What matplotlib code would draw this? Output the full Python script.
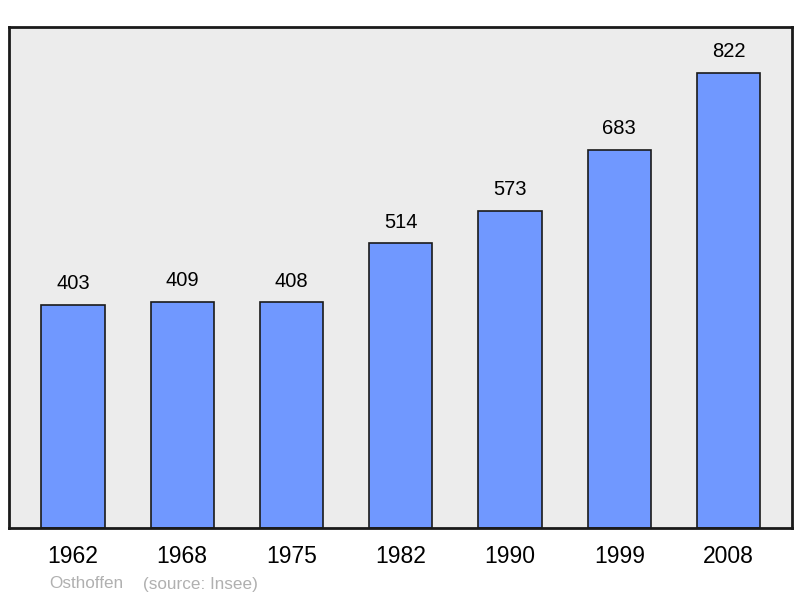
import matplotlib.pyplot as plt

years = ['1962', '1968', '1975', '1982', '1990', '1999', '2008']
population = [403, 409, 408, 514, 573, 683, 822]
town = 'Osthoffen'
source = '(source: Insee)'

plt.rcParams['font.family'] = ['Liberation Sans', 'DejaVu Sans']

fig = plt.figure(figsize=(8, 5.98), dpi=100)
ax = fig.add_axes([9 / 800, 70 / 598, 783 / 800, 501 / 598])
ax.set_facecolor('#ececec')

pos = list(range(len(years)))
ax.bar(pos, population, width=0.58, color='#7098ff', edgecolor='#1a1a1a', linewidth=1.2, zorder=2)
for x, v in zip(pos, population):
    ax.text(x, v + 21, str(v), ha='center', va='bottom', fontsize=14.5, color='black')

ax.set_xlim(-0.585, 6.58)
ax.set_ylim(0, 905)
ax.set_yticks([])
ax.set_xticks(pos)
ax.set_xticklabels(years, fontsize=16.5)
ax.tick_params(axis='x', length=0, pad=12)
for s in ax.spines.values():
    s.set_linewidth(2)
    s.set_color('#1a1a1a')

fig.text(49 / 800, 1 - 584 / 598, town, fontsize=12.3, color='#b0b0b0', va='center')
fig.text(143 / 800, 1 - 584 / 598, source, fontsize=12.3, color='#b0b0b0', va='center')

fig.savefig('out.png', dpi=100)
